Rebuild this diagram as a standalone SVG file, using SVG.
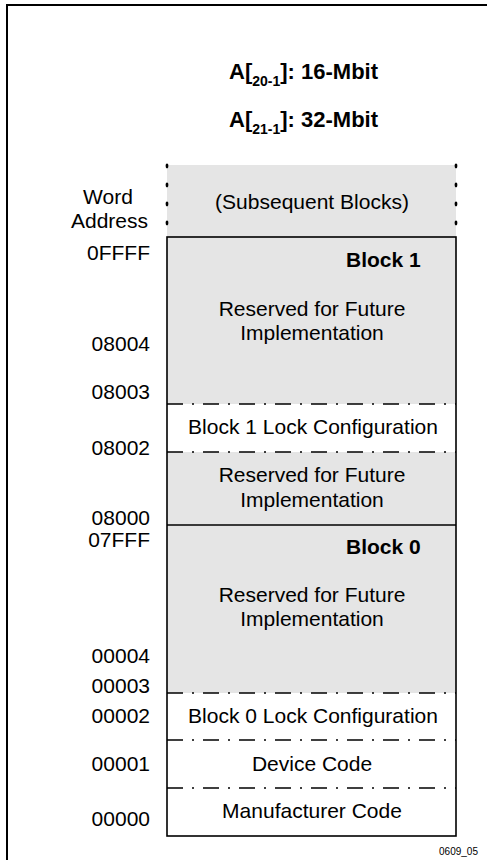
<svg xmlns="http://www.w3.org/2000/svg" width="487" height="860" viewBox="0 0 487 860">
<style>
text{font-family:"Liberation Sans",Arial,sans-serif;fill:#000}
.t{font-size:21px}
.c{text-anchor:middle}
.r{text-anchor:end}
.b{font-weight:bold}
.gray{fill:#e5e5e5;stroke:none}
.white{fill:#fff;stroke:none}
.solid{stroke:#000;stroke-width:1.6;fill:none}
.dash{stroke:#000;stroke-width:1.6;fill:none;stroke-dasharray:16 9 2 9}
.dot{fill:#000}
</style>
<rect width="487" height="860" fill="#fff"/>
<path d="M7,862 V5 H489" fill="none" stroke="#000" stroke-width="2"/>

<g id="title">
  <text class="b" font-size="22" x="229" y="79">A[<tspan font-size="14" dy="7">20-1</tspan><tspan dy="-7">]: 16-Mbit</tspan></text>
  <text class="b" font-size="22" x="229" y="127">A[<tspan font-size="14" dy="7">21-1</tspan><tspan dy="-7">]: 32-Mbit</tspan></text>
</g>

<g id="subsequent-blocks">
  <rect class="gray" x="167" y="165" width="289" height="72"/>
  <ellipse class="dot" cx="167" cy="166" rx="1.4" ry="2.4"/>
  <ellipse class="dot" cx="167" cy="185" rx="1.4" ry="2.4"/>
  <ellipse class="dot" cx="167" cy="204" rx="1.4" ry="2.4"/>
  <ellipse class="dot" cx="167" cy="223" rx="1.4" ry="2.4"/>
  <ellipse class="dot" cx="456" cy="166" rx="1.4" ry="2.4"/>
  <ellipse class="dot" cx="456" cy="185" rx="1.4" ry="2.4"/>
  <ellipse class="dot" cx="456" cy="204" rx="1.4" ry="2.4"/>
  <ellipse class="dot" cx="456" cy="223" rx="1.4" ry="2.4"/>
  <text class="t c" x="312" y="209">(Subsequent Blocks)</text>
</g>

<g id="block1-reserved-upper">
  <rect class="gray" x="167" y="237" width="289" height="167"/>
  <text class="t b" x="346" y="267">Block 1</text>
  <text class="t c" x="312" y="316">Reserved for Future</text>
  <text class="t c" x="312" y="340">Implementation</text>
</g>

<g id="block1-lock">
  <rect class="white" x="167" y="404" width="289" height="48"/>
  <text class="t c" x="313" y="434">Block 1 Lock Configuration</text>
</g>

<g id="block1-reserved-lower">
  <rect class="gray" x="167" y="452" width="289" height="73"/>
  <text class="t c" x="312" y="482">Reserved for Future</text>
  <text class="t c" x="312" y="507">Implementation</text>
</g>

<g id="block0-reserved">
  <rect class="gray" x="167" y="525" width="289" height="168"/>
  <text class="t b" x="346" y="554">Block 0</text>
  <text class="t c" x="312" y="602">Reserved for Future</text>
  <text class="t c" x="312" y="626">Implementation</text>
</g>

<g id="block0-lock">
  <rect class="white" x="167" y="693" width="289" height="47"/>
  <text class="t c" x="313" y="723">Block 0 Lock Configuration</text>
</g>

<g id="device-code">
  <rect class="white" x="167" y="740" width="289" height="48"/>
  <text class="t c" x="312" y="771">Device Code</text>
</g>

<g id="manufacturer-code">
  <rect class="white" x="167" y="788" width="289" height="48"/>
  <text class="t c" x="312" y="818">Manufacturer Code</text>
</g>

<g id="connectors">
  <rect class="solid" x="167" y="237" width="289" height="599"/>
  <line class="solid" x1="167" y1="525" x2="456" y2="525"/>
  <line class="dash" x1="167" y1="404" x2="456" y2="404"/>
  <line class="dash" x1="167" y1="452" x2="456" y2="452"/>
  <line class="dash" x1="167" y1="693" x2="456" y2="693"/>
  <line class="dash" x1="167" y1="740" x2="456" y2="740"/>
  <line class="dash" x1="167" y1="788" x2="456" y2="788"/>
</g>

<g id="addresses">
  <text class="t c" x="108" y="204">Word</text>
  <text class="t r" x="148" y="228">Address</text>
  <text class="t r" x="150" y="260">0FFFF</text>
  <text class="t r" x="150" y="351">08004</text>
  <text class="t r" x="150" y="399">08003</text>
  <text class="t r" x="150" y="455">08002</text>
  <text class="t r" x="150" y="525">08000</text>
  <text class="t r" x="150" y="547">07FFF</text>
  <text class="t r" x="150" y="663">00004</text>
  <text class="t r" x="150" y="693">00003</text>
  <text class="t r" x="150" y="723">00002</text>
  <text class="t r" x="150" y="771">00001</text>
  <text class="t r" x="150" y="826">00000</text>
</g>

<text x="478" y="855" font-size="10" text-anchor="end">0609_05</text>
</svg>
